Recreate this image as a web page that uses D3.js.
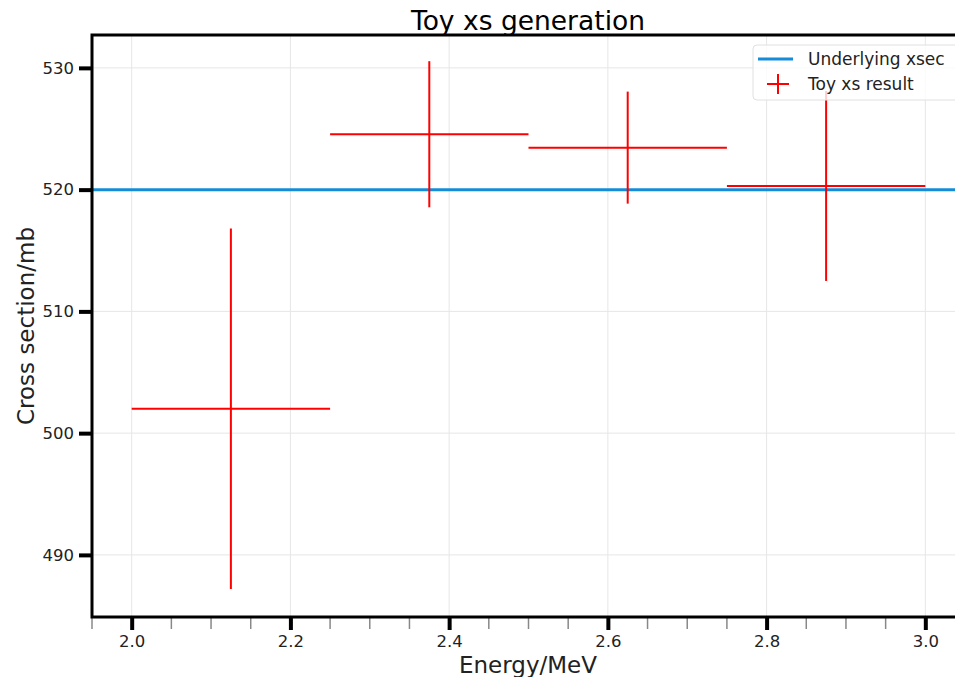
<!DOCTYPE html>
<html><head><meta charset="utf-8">
<script src="https://cdn.jsdelivr.net/npm/d3@7"></script>
<style>body{margin:0;background:#fff;overflow:hidden}svg{display:block}</style>
</head><body>
<svg id="c" width="955" height="677"></svg>
<script>
const energyCenters = [2.125, 2.375, 2.625, 2.875];
const energyHalfWidth = [0.125, 0.125, 0.125, 0.125];
const toyXs = [502.0, 524.55, 523.45, 520.3];
const toyXsErr = [14.8, 6.0, 4.6, 7.8];
const underlyingXsec = 520;
const xTicks = [2.0, 2.2, 2.4, 2.6, 2.8, 3.0];
const xMinorTicks = d3.range(1.95, 3.051, 0.05);
const yTicks = [490, 500, 510, 520, 530];
const xDomain = [1.95, 3.05];
const yDomain = [484.9, 532.7];

const svg = d3.select("#c");
const L = 92, R = 965, T = 35, B = 617;
const x = d3.scaleLinear().domain(xDomain).range([L, R]);
const y = d3.scaleLinear().domain(yDomain).range([B, T]);
const font = "DejaVu Sans";

// grid
svg.append("g").selectAll("line").data(xTicks).join("line")
  .attr("x1", d => x(d)).attr("x2", d => x(d)).attr("y1", T).attr("y2", B)
  .attr("stroke", "#e6e6e6").attr("stroke-width", 1);
svg.append("g").selectAll("line").data(yTicks).join("line")
  .attr("y1", d => y(d)).attr("y2", d => y(d)).attr("x1", L).attr("x2", R)
  .attr("stroke", "#e6e6e6").attr("stroke-width", 1);

// underlying line
svg.append("line").attr("x1", L).attr("x2", R)
  .attr("y1", y(underlyingXsec)).attr("y2", y(underlyingXsec))
  .attr("stroke", "#148cd8").attr("stroke-width", 3);

// error bars
const pts = energyCenters.map((c, i) => ({c, hw: energyHalfWidth[i], v: toyXs[i], e: toyXsErr[i]}));
const g = svg.append("g");
pts.forEach(p => {
  g.append("line").attr("x1", x(p.c - p.hw)).attr("x2", x(p.c + p.hw))
    .attr("y1", y(p.v)).attr("y2", y(p.v)).attr("stroke", "#ff0000").attr("stroke-width", 2);
  g.append("line").attr("x1", x(p.c)).attr("x2", x(p.c))
    .attr("y1", y(p.v + p.e)).attr("y2", y(p.v - p.e)).attr("stroke", "#ff0000").attr("stroke-width", 2);
});

// axes
const xAxis = d3.axisBottom(x).tickValues(xTicks).tickFormat(d3.format(".1f")).tickSize(13).tickPadding(5);
const xa = svg.append("g").attr("transform", `translate(0,${B})`).call(xAxis);
xa.select(".domain").remove();
xa.selectAll(".tick line").attr("stroke", "#000").attr("stroke-width", 4);
xa.selectAll(".tick text").attr("font-family", font).attr("font-size", 16.5).attr("fill", "#222");
const xm = svg.append("g").attr("transform", `translate(0,${B})`);
xm.selectAll("line").data(xMinorTicks.filter(v => !xTicks.some(t => Math.abs(t - v) < 1e-6))).join("line")
  .attr("x1", d => x(d)).attr("x2", d => x(d)).attr("y1", 1).attr("y2", 12)
  .attr("stroke", "#888").attr("stroke-width", 1.5);

const yAxis = d3.axisLeft(y).tickValues(yTicks).tickSize(13).tickPadding(5);
const ya = svg.append("g").attr("transform", `translate(${L},0)`).call(yAxis);
ya.select(".domain").remove();
ya.selectAll(".tick line").attr("stroke", "#000").attr("stroke-width", 4);
ya.selectAll(".tick text").attr("font-family", font).attr("font-size", 16.5).attr("fill", "#222");

// spines
svg.append("rect").attr("x", L).attr("y", T).attr("width", R - L).attr("height", B - T)
  .attr("fill", "none").attr("stroke", "#000").attr("stroke-width", 3);

// labels
svg.append("text").attr("x", 528).attr("y", 30).attr("text-anchor", "middle")
  .attr("font-family", font).attr("font-size", 26.5).attr("fill", "#000").text("Toy xs generation");
svg.append("text").attr("x", 528).attr("y", 673).attr("text-anchor", "middle")
  .attr("font-family", font).attr("font-size", 23).attr("fill", "#222").text("Energy/MeV");
svg.append("text").attr("transform", `translate(34,326) rotate(-90)`).attr("text-anchor", "middle")
  .attr("font-family", font).attr("font-size", 23).attr("fill", "#222").text("Cross section/mb");

// legend
const lg = svg.append("g");
lg.append("rect").attr("x", 753).attr("y", 45).attr("width", 215).attr("height", 55).attr("rx", 4)
  .attr("fill", "rgba(255,255,255,0.8)").attr("stroke", "#e0e0e0").attr("stroke-width", 1);
lg.append("line").attr("x1", 758).attr("x2", 793).attr("y1", 59).attr("y2", 59)
  .attr("stroke", "#148cd8").attr("stroke-width", 3);
lg.append("line").attr("x1", 767).attr("x2", 789).attr("y1", 84).attr("y2", 84)
  .attr("stroke", "#ff0000").attr("stroke-width", 2);
lg.append("line").attr("x1", 778).attr("x2", 778).attr("y1", 74).attr("y2", 94)
  .attr("stroke", "#ff0000").attr("stroke-width", 2);
lg.append("text").attr("x", 808).attr("y", 65).attr("font-family", font).attr("font-size", 17).attr("fill", "#222").text("Underlying xsec");
lg.append("text").attr("x", 808).attr("y", 90).attr("font-family", font).attr("font-size", 17).attr("fill", "#222").text("Toy xs result");
</script>
</body></html>
